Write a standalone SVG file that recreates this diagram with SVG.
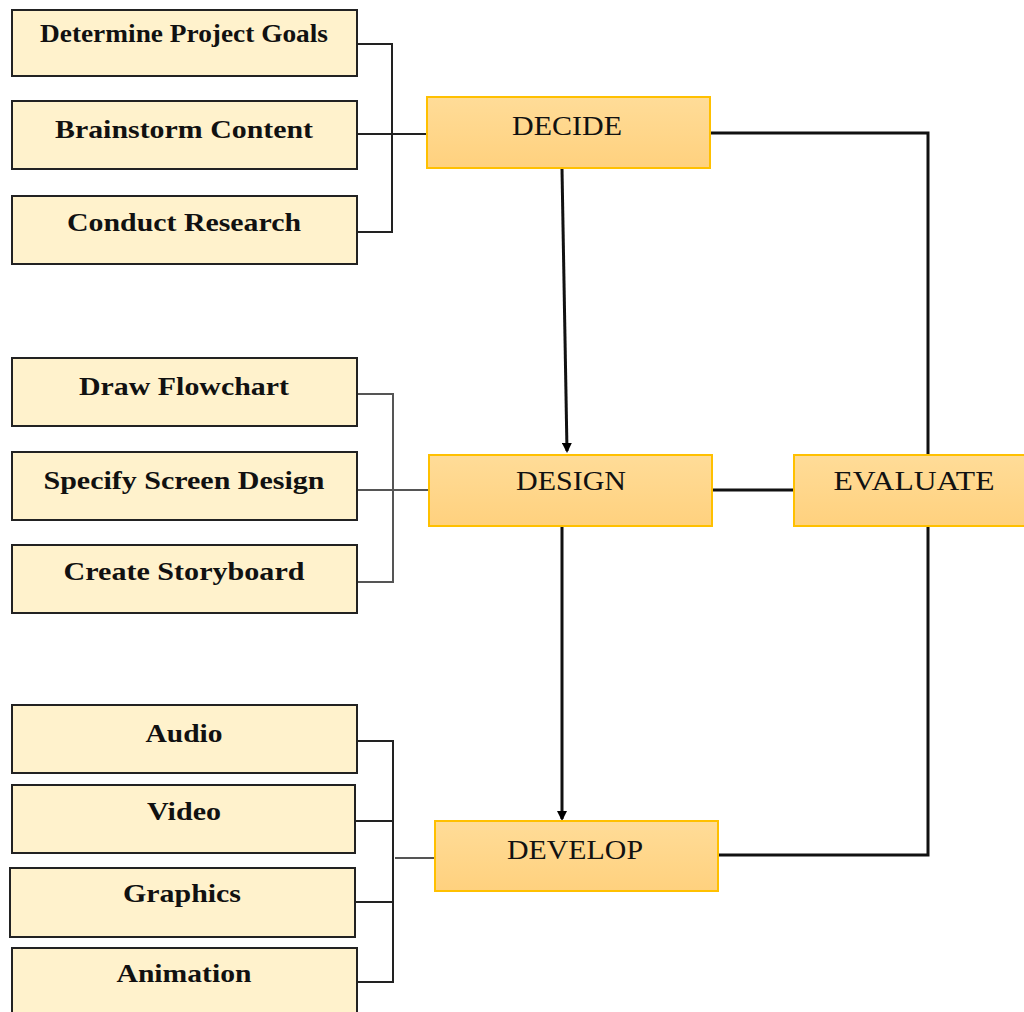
<svg xmlns="http://www.w3.org/2000/svg" width="1024" height="1012" viewBox="0 0 1024 1012">
<style>
.sub{fill:#FFF2CC;stroke:#222;stroke-width:2}
.main{fill:url(#g);stroke:#FFC000;stroke-width:2}
.st{font-family:"Liberation Serif","Times New Roman",serif;font-weight:bold;font-size:26px;fill:#111;text-anchor:middle}
.mt{font-family:"Liberation Serif","Times New Roman",serif;font-size:27px;fill:#111;text-anchor:middle}
.c{fill:none;stroke:#222;stroke-width:2}
.cg{fill:none;stroke:#555;stroke-width:2}
.k{fill:none;stroke:#111;stroke-width:3}
</style>
<defs>
<linearGradient id="g" x1="0" y1="0" x2="0" y2="1">
<stop offset="0" stop-color="#FFDC98"/>
<stop offset="1" stop-color="#FFD17E"/>
</linearGradient>
<marker id="ar" markerWidth="10" markerHeight="10" refX="8" refY="5" orient="auto" markerUnits="userSpaceOnUse">
<path d="M0,0 L10,5 L0,10 z" fill="#000"/>
</marker>
</defs>
<rect width="1024" height="1012" fill="#fff"/>
<g id="connectors">
<path class="c" d="M357,44 H392 V232 H357"/>
<path class="c" d="M357,134 H428"/>
<path class="cg" d="M357,394 H393 V582 H357"/>
<path class="cg" d="M357,490 H430"/>
<path class="c" d="M357,741 H393 V982 H357"/>
<path class="c" d="M355,821 H393"/>
<path class="c" d="M355,902 H393"/>
<path class="cg" d="M395,858 H436"/>
<path class="k" d="M562,169 L567,451" marker-end="url(#ar)"/>
<path class="k" d="M562,527 L562,819" marker-end="url(#ar)"/>
<path class="k" d="M711,133 H928 V455"/>
<path class="k" d="M928,526 V855 H719"/>
<path class="k" d="M713,490 H794"/>
</g>
<g id="n-goals"><rect class="sub" x="12" y="10" width="345" height="66"/><text class="st" x="184" y="42" textLength="288" lengthAdjust="spacingAndGlyphs">Determine Project Goals</text></g>
<g id="n-brainstorm"><rect class="sub" x="12" y="101" width="345" height="68"/><text class="st" x="184" y="138" textLength="258" lengthAdjust="spacingAndGlyphs">Brainstorm Content</text></g>
<g id="n-research"><rect class="sub" x="12" y="196" width="345" height="68"/><text class="st" x="184" y="231" textLength="234" lengthAdjust="spacingAndGlyphs">Conduct Research</text></g>
<g id="n-flowchart"><rect class="sub" x="12" y="358" width="345" height="68"/><text class="st" x="184" y="395" textLength="210" lengthAdjust="spacingAndGlyphs">Draw Flowchart</text></g>
<g id="n-screen"><rect class="sub" x="12" y="452" width="345" height="68"/><text class="st" x="184" y="489" textLength="281" lengthAdjust="spacingAndGlyphs">Specify Screen Design</text></g>
<g id="n-storyboard"><rect class="sub" x="12" y="545" width="345" height="68"/><text class="st" x="184" y="580" textLength="241" lengthAdjust="spacingAndGlyphs">Create Storyboard</text></g>
<g id="n-audio"><rect class="sub" x="12" y="705" width="345" height="68"/><text class="st" x="184" y="742" textLength="77" lengthAdjust="spacingAndGlyphs">Audio</text></g>
<g id="n-video"><rect class="sub" x="12" y="785" width="343" height="68"/><text class="st" x="184" y="820" textLength="74" lengthAdjust="spacingAndGlyphs">Video</text></g>
<g id="n-graphics"><rect class="sub" x="10" y="868" width="345" height="69"/><text class="st" x="182" y="902" textLength="118" lengthAdjust="spacingAndGlyphs">Graphics</text></g>
<g id="n-animation"><rect class="sub" x="12" y="948" width="345" height="70"/><text class="st" x="184" y="982" textLength="135" lengthAdjust="spacingAndGlyphs">Animation</text></g>
<g id="n-decide"><rect class="main" x="427" y="97" width="283" height="71"/><text class="mt" x="567" y="135" textLength="110" lengthAdjust="spacingAndGlyphs">DECIDE</text></g>
<g id="n-design"><rect class="main" x="429" y="455" width="283" height="71"/><text class="mt" x="571" y="490" textLength="110" lengthAdjust="spacingAndGlyphs">DESIGN</text></g>
<g id="n-evaluate"><rect class="main" x="794" y="455" width="240" height="71"/><text class="mt" x="914" y="490" textLength="161" lengthAdjust="spacingAndGlyphs">EVALUATE</text></g>
<g id="n-develop"><rect class="main" x="435" y="821" width="283" height="70"/><text class="mt" x="575" y="859" textLength="136" lengthAdjust="spacingAndGlyphs">DEVELOP</text></g>
</svg>
